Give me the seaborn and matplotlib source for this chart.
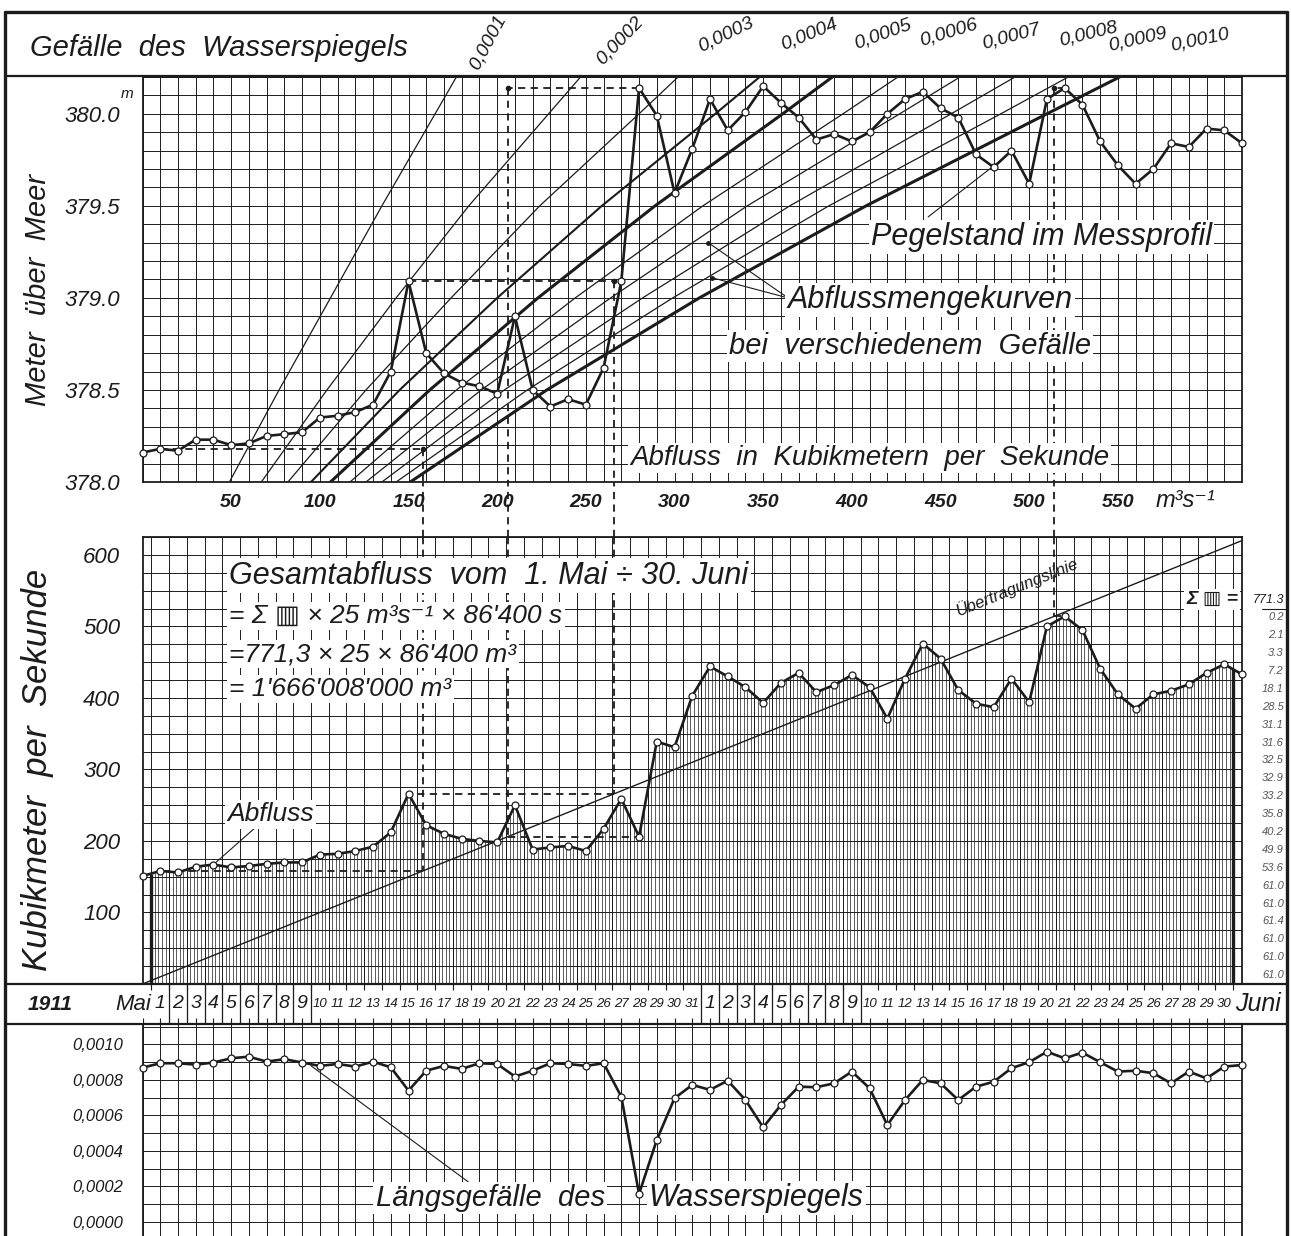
import numpy as np
import matplotlib
matplotlib.use("Agg")
import matplotlib.pyplot as plt
from matplotlib.lines import Line2D
import seaborn as sns

# STIL
sns.set_theme(style="white")
plt.rcParams['font.family'] = ['Liberation Sans Narrow', 'Liberation Sans', 'DejaVu Sans']
plt.rcParams['font.style'] = 'italic'
INK = '#1c1c1c'

# DATEN: ein Wert pro Tag, 30. April ... 1. Juli 1911
pegel = [378.16, 378.18, 378.17, 378.23, 378.23, 378.20, 378.21, 378.25, 378.26, 378.27,
         378.35, 378.36, 378.38, 378.42, 378.60, 379.09, 378.70, 378.59, 378.54, 378.52,
         378.48, 378.90, 378.50, 378.41, 378.45, 378.42, 378.62, 379.09, 380.14, 379.99,
         379.57, 379.81, 380.08, 379.91, 380.01, 380.15, 380.06, 379.98, 379.86, 379.89,
         379.85, 379.90, 380.00, 380.08, 380.12, 380.03, 379.98, 379.78, 379.71, 379.80,
         379.62, 380.08, 380.14, 380.05, 379.85, 379.72, 379.62, 379.70, 379.84, 379.82,
         379.92, 379.91, 379.84]

abfluss = [151, 158, 156, 164, 167, 163, 165, 168, 170, 170,
           181, 182, 186, 192, 212, 266, 222, 210, 203, 200,
           198, 250, 188, 191, 193, 186, 217, 259, 206, 339,
           331, 403, 444, 430, 415, 393, 421, 435, 408, 418,
           432, 415, 371, 427, 476, 455, 411, 392, 387, 427,
           394, 500, 514, 495, 441, 405, 385, 405, 410, 419,
           435, 447, 433]

gefaelle = [0.000869, 0.000894, 0.000894, 0.000886, 0.000898, 0.000922, 0.000931, 0.000903, 0.000917, 0.000898,
            0.000879, 0.000890, 0.000875, 0.000903, 0.000871, 0.000740, 0.000852, 0.000879, 0.000862, 0.000894,
            0.000890, 0.000819, 0.000852, 0.000894, 0.000890, 0.000879, 0.000894, 0.000706, 0.000158, 0.000462,
            0.000697, 0.000772, 0.000744, 0.000796, 0.000687, 0.000533, 0.000659, 0.000762, 0.000759, 0.000781,
            0.000847, 0.000753, 0.000546, 0.000687, 0.000800, 0.000781, 0.000687, 0.000762, 0.000790, 0.000866,
            0.000900, 0.000959, 0.000922, 0.000954, 0.000900, 0.000847, 0.000852, 0.000838, 0.000781, 0.000847,
            0.000809, 0.000875, 0.000884]

# Abflussmengekurven: Abfluss bei gegebenen Pegelhoehen, je Gefaelle
kurven_hoehen = [378.0, 378.5, 379.0, 379.5, 380.0, 380.2]
kurven_abfluss = [
    [49, 77, 106, 135, 165, 177],
    [67, 104, 143, 184, 229, 247],
    [82, 126, 174, 224, 280, 302],
    [95, 145, 200, 259, 323, 348],
    [106, 162, 223, 289, 361, 389],
    [117, 177, 244, 316, 395, 426],
    [126, 191, 264, 341, 427, 461],
    [135, 204, 282, 365, 456, 492],
    [143, 217, 299, 387, 484, 522],
    [151, 228, 314, 408, 510, 551],
]
kurven_namen = ['0,0001', '0,0002', '0,0003', '0,0004', '0,0005',
                '0,0006', '0,0007', '0,0008', '0,0009', '0,0010']

# Uebertragung (gestrichelt) fuer diese Tage
konstruktions_tage = [1, 15, 28, 52]

mai_tage = [str(t) for t in range(1, 32)]
juni_tage = [str(t) for t in range(1, 31)]
abfluss_marken = [50, 100, 150, 200, 250, 300, 350, 400, 450, 500, 550]
pegel_marken = [378.0, 378.5, 379.0, 379.5, 380.0]
q_marken = [100, 200, 300, 400, 500, 600]
gefaelle_marken = [0.0, 0.0002, 0.0004, 0.0006, 0.0008, 0.0010]
gefaelle_namen = ['0,0000', '0,0002', '0,0004', '0,0006', '0,0008', '0,0010']

summe_zellen = '771.3'
zeilen_summen = [0.2, 2.1, 3.3, 7.2, 18.1, 28.5, 31.1, 31.6, 32.5, 32.9, 33.2,
                 35.8, 40.2, 49.9, 53.6, 61.0, 61.0, 61.4, 61.0, 61.0, 61.0]

Q_PER_TAG = 10      # 1 Tag Breite = 10 m3/s auf der Abflussachse
ZELLE = 25          # Hoehe einer Zelle im Abflussbild

# STYLES (nicht Daten)
kurven_lw = [0.9, 0.9, 0.9, 1.5, 2.2, 0.9, 0.9, 0.9, 0.9, 2.2]
kurven_rot = [62, 46, 26, 22, 20, 17, 15, 14, 13, 12]
kopf_dx = [1.4, 1.4, 1.4, 1.4, 1.4, 1.4, 1.4, 2.6, 2.4, 3.0]
kopf_y = [0.06, 0.14, 0.33, 0.36, 0.38, 0.42, 0.38, 0.42, 0.34, 0.34]

tage = np.arange(len(pegel))
W, H = 1291, 1236
fig = plt.figure(figsize=(W / 100, H / 100), dpi=100)


def box(x0, y0, x1, y1):
    return [x0 / W, 1 - y1 / H, (x1 - x0) / W, (y1 - y0) / H]


def fig_line(x0, y0, x1, y1, lw=2.0):
    fig.add_artist(Line2D([x0 / W, x1 / W], [1 - y0 / H, 1 - y1 / H],
                          color=INK, lw=lw, transform=fig.transFigure))


def fig_text(x, y, s, **kw):
    fig.text(x / W, 1 - y / H, s, color=INK, **kw)


X0, X1 = 142.5, 1242
ax_head = fig.add_axes(box(X0, 12, X1, 77))
ax_top = fig.add_axes(box(X0, 77, X1, 482))
ax_strip = fig.add_axes(box(X0, 482, X1, 537))
ax_mid = fig.add_axes(box(X0, 537, X1, 984))
ax_date = fig.add_axes(box(X0, 984, X1, 1024))
ax_bot = fig.add_axes(box(X0, 1024, X1, 1236))

for ax in (ax_head, ax_top, ax_strip, ax_mid, ax_date, ax_bot):
    ax.set_xlim(0, 62)
    ax.set_facecolor('none')
for ax in (ax_head, ax_strip, ax_date):
    ax.set_ylim(0, 1)
    ax.axis('off')

WHITE_BOX = dict(facecolor='white', edgecolor='none', pad=1.5)
grid_kw = dict(color=INK, lw=0.7)
leader = dict(arrowstyle='-', lw=0.8, color=INK, shrinkA=0, shrinkB=0)

# ---------------- oberes Bild: Pegel ----------------
ax_top.set_ylim(378.0, 380.2)
ax_top.set_xticks(tage)
ax_top.set_yticks(pegel_marken)
ax_top.set_yticklabels([f'{v:.1f}' for v in pegel_marken])
ax_top.set_yticks(np.arange(378.0, 380.21, 0.1), minor=True)
ax_top.grid(True, which='both', **grid_kw)
ax_top.tick_params(axis='x', labelbottom=False, length=0)
ax_top.tick_params(axis='y', which='both', length=0, labelsize=16, pad=16, labelcolor=INK)

for qs, lw in zip(kurven_abfluss, kurven_lw):
    ax_top.plot(np.array(qs) / Q_PER_TAG, kurven_hoehen, color=INK, lw=lw, zorder=3)

sns.lineplot(x=tage, y=pegel, ax=ax_top, color=INK, lw=1.9, marker='o', markersize=5,
             markerfacecolor='white', markeredgecolor=INK, markeredgewidth=0.9,
             zorder=7, clip_on=False)

# Gefaelle-Beschriftung im Kopf
for qs, name, rot, dx, yk in zip(kurven_abfluss, kurven_namen, kurven_rot, kopf_dx, kopf_y):
    ax_head.text(qs[-1] / Q_PER_TAG + dx, yk, name, rotation=rot, rotation_mode='anchor',
                 ha='left', va='bottom', fontsize=14, color=INK)
fig_text(30, 48, 'Gefälle  des  Wasserspiegels', fontsize=21, ha='left', va='center')

ax_top.text(50.7, 379.33, 'Pegelstand im Messprofil', fontsize=22, ha='center', va='center',
            bbox=WHITE_BOX, zorder=6, color=INK)
ax_top.annotate('', xy=(48.7, 379.77), xytext=(44.3, 379.44), arrowprops=leader)
ax_top.text(44.4, 378.99, 'Abflussmengekurven', fontsize=22, ha='center', va='center',
            bbox=WHITE_BOX, zorder=6, color=INK)
for ziel in [(31.9, 379.30), (32.1, 379.11)]:
    ax_top.annotate('', xy=ziel, xytext=(36.4, 379.0), arrowprops=leader)
    ax_top.plot(*ziel, 'o', ms=2.5, color=INK, zorder=6)
ax_top.text(43.3, 378.74, 'bei  verschiedenem  Gefälle', fontsize=21, ha='center', va='center',
            bbox=WHITE_BOX, zorder=6, color=INK)
ax_top.text(41.0, 378.13, 'Abfluss  in  Kubikmetern  per  Sekunde', fontsize=20, ha='center',
            va='center', bbox=WHITE_BOX, zorder=6, color=INK)

# ---------------- Abflussachse zwischen den Bildern ----------------
for q in abfluss_marken:
    ax_strip.text(q / Q_PER_TAG, 0.62, str(q), fontsize=14, weight='bold', ha='center',
                  va='center', color=INK)
ax_strip.text(58.8, 0.66, 'm³s⁻¹', fontsize=17, ha='center', va='center', color=INK)

# ---------------- mittleres Bild: Abfluss ----------------
q_max = ZELLE * 25
ax_mid.set_ylim(0, q_max)
ax_mid.set_xticks(np.arange(0.5, 62, 1))
ax_mid.set_yticks(q_marken)
ax_mid.set_yticks(np.arange(0, q_max + 1, ZELLE), minor=True)
ax_mid.grid(True, which='both', **grid_kw)
ax_mid.tick_params(axis='x', labelbottom=False, length=0)
ax_mid.tick_params(axis='y', which='both', length=0, labelsize=16, pad=16, labelcolor=INK)

schraffur = np.arange(0.5, 61.5001, 0.2)
ax_mid.vlines(schraffur, 0, np.interp(schraffur, tage, abfluss), color=INK, lw=0.5, zorder=2)
rand = np.array([0.5, 61.5])
ax_mid.vlines(rand, 0, np.interp(rand, tage, abfluss), color=INK, lw=2.4, zorder=4)

ax_mid.plot([0, q_max / Q_PER_TAG], [0, q_max], color=INK, lw=1.0, zorder=4)
ax_mid.text(49.3, 556, 'Übertragungslinie', rotation=22, fontsize=12, ha='center', va='center',
            color=INK, zorder=6)

sns.lineplot(x=tage, y=abfluss, ax=ax_mid, color=INK, lw=1.9, marker='o', markersize=5,
             markerfacecolor='white', markeredgecolor=INK, markeredgewidth=0.9,
             zorder=7, clip_on=False)

# Uebertragungskonstruktion (gestrichelt)
dash = dict(color=INK, lw=1.3, ls=(0, (4, 3)), zorder=5)
for t in konstruktions_tage:
    h, q = pegel[t], abfluss[t]
    xq = q / Q_PER_TAG
    ax_top.plot([t, xq], [h, h], **dash)
    ax_top.plot([xq, xq], [h, 378.0], **dash)
    ax_top.plot(xq, h, 'o', ms=3, color=INK, zorder=6)
    ax_strip.plot([xq, xq], [0, 1], **dash)
    ax_mid.plot([xq, xq], [q_max, q], **dash)
    ax_mid.plot([xq, t], [q, q], **dash)

ax_mid.text(4.9, 571, 'Gesamtabfluss  vom  1. Mai ÷ 30. Juni', fontsize=22, ha='left',
            va='center', bbox=WHITE_BOX, zorder=6, color=INK)
ax_mid.text(4.9, 515, '= Σ ▥ × 25 m³s⁻¹ × 86\'400 s', fontsize=19, ha='left', va='center',
            bbox=WHITE_BOX, zorder=6, color=INK)
ax_mid.text(4.9, 461, '=771,3 × 25 × 86\'400 m³', fontsize=19, ha='left', va='center',
            bbox=WHITE_BOX, zorder=6, color=INK)
ax_mid.text(4.9, 412, '= 1\'666\'008\'000 m³', fontsize=19, ha='left', va='center',
            bbox=WHITE_BOX, zorder=6, color=INK)
ax_mid.annotate('Abfluss', xy=(4.0, abfluss[4]), xytext=(7.2, 237), fontsize=19, ha='center',
                va='center', color=INK, bbox=WHITE_BOX, zorder=6, arrowprops=leader)

# Zellensummen rechts
ytr = ax_mid.get_yaxis_transform()
ax_mid.text(0.973, q_max - ZELLE * 3.5, 'Σ ▥ =', transform=ytr, fontsize=14, weight='bold',
            ha='center', va='center', color=INK, bbox=WHITE_BOX, clip_on=False)
ax_mid.text(1.038, q_max - ZELLE * 3.5, summe_zellen, transform=ytr, fontsize=9, ha='right',
            va='center', color=INK, clip_on=False)
for i, v in enumerate(zeilen_summen):
    ax_mid.text(1.038, q_max - ZELLE * (4.5 + i), f'{v:.1f}', transform=ytr, fontsize=8,
                ha='right', va='center', color='#555555', clip_on=False)
fig_line(1262, 609, 1285, 609, lw=0.8)

# ---------------- Datumszeile ----------------
for i, s in enumerate(mai_tage + juni_tage):
    ax_date.text(i + 1, 0.5, s, ha='center', va='center', color=INK,
                 fontsize=14 if len(s) == 1 else 9.5)
ax_date.text(0.5, 0.5, 'Mai', ha='right', va='center', fontsize=16, color=INK)
ax_date.text(61.6, 0.5, 'Juni', ha='left', va='center', fontsize=18, color=INK, clip_on=False)
trenner = [t + 0.5 for t in range(1, 10)] + [t + 0.5 for t in range(31, 41)]
ax_date.vlines(trenner, 0, 1, color=INK, lw=0.9)
grenzen = np.arange(0.5, 62, 1)
ax_date.vlines(grenzen, 0.85, 1, color=INK, lw=0.8)
ax_date.vlines(tage, 0, 0.15, color=INK, lw=0.8)
fig_text(50, 1004, '1911', fontsize=15, weight='bold', ha='center', va='center')

# ---------------- unteres Bild: Laengsgefaelle ----------------
ax_bot.set_ylim(-0.000079, 0.001115)
ax_bot.set_xticks(tage)
ax_bot.set_yticks(gefaelle_marken)
ax_bot.set_yticklabels(gefaelle_namen)
ax_bot.set_yticks(np.arange(0, 0.00111, 0.0001), minor=True)
ax_bot.grid(True, which='both', **grid_kw)
ax_bot.tick_params(axis='x', labelbottom=False, length=0)
ax_bot.tick_params(axis='y', which='both', length=0, labelsize=12, pad=14, labelcolor=INK)
ax_bot.spines['bottom'].set_visible(False)

sns.lineplot(x=tage, y=gefaelle, ax=ax_bot, color=INK, lw=1.9, marker='o', markersize=5,
             markerfacecolor='white', markeredgecolor=INK, markeredgewidth=0.9,
             zorder=7, clip_on=False)
ax_bot.annotate('Längsgefälle  des', xy=(9.5, 0.00088), xytext=(19.6, 0.000135), fontsize=21,
                ha='center', va='center', color=INK, bbox=WHITE_BOX, zorder=6, arrowprops=leader)
ax_bot.text(34.6, 0.000135, 'Wasserspiegels', fontsize=22, ha='center', va='center',
            color=INK, bbox=WHITE_BOX, zorder=6)

for ax in (ax_top, ax_mid, ax_bot):
    ax.set_xlabel('')
    ax.set_ylabel('')
    for sp in ax.spines.values():
        sp.set_color(INK)
        sp.set_linewidth(1.3)

# Achsentitel
fig_text(38, 290, 'Meter  über  Meer', rotation=90, fontsize=21, ha='center', va='center')
fig_text(38, 770, 'Kubikmeter  per  Sekunde', rotation=90, fontsize=25, ha='center', va='center')
fig_text(127, 94, 'm', fontsize=11, ha='center', va='center')

# Rahmen
fig_line(5, 12, 1287, 12, lw=2.4)
fig_line(5, 12, 5, 1236, lw=2.4)
fig_line(1287, 12, 1287, 1236, lw=2.4)
fig_line(5, 76, 1287, 76, lw=1.6)
fig_line(5, 984, 1287, 984, lw=1.6)
fig_line(5, 1024, 1287, 1024, lw=1.6)

fig.savefig('out.png', dpi=100)
